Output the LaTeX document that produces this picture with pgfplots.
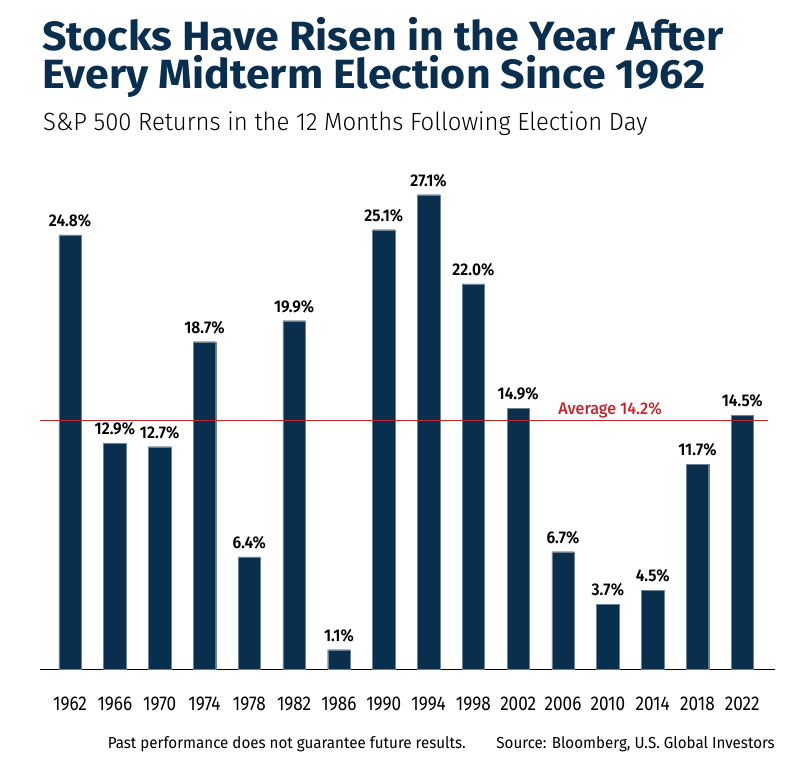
\documentclass[border=0pt]{standalone}
\usepackage{fontspec}
\usepackage{pgfplots}
\pgfplotsset{compat=1.18}
\setmainfont{Fira Sans}
\newfontfamily\titlefont[FakeStretch=1.05]{Fira Sans Bold}
\newfontfamily\subfont[FakeStretch=0.96]{Fira Sans Light}
\newfontfamily\tickfont[FakeStretch=0.86]{Fira Sans}
\newfontfamily\footfont[FakeStretch=0.95]{Fira Sans}
\newfontfamily\lblfont[FakeStretch=0.92]{Fira Sans SemiBold}
\newfontfamily\avgfont[FakeStretch=0.95]{Fira Sans Medium}
\definecolor{navy}{HTML}{0A2E4D}
\definecolor{avgred}{HTML}{C0282D}
\begin{document}
\begin{tikzpicture}
\path[use as bounding box] (0,0) rectangle (795bp,766bp);
\node[anchor=base west,inner sep=0,text=navy,font=\titlefont\fontsize{41}{41}\selectfont] at (42bp,715bp) {Stocks Have Risen in the Year After};
\node[anchor=base west,inner sep=0,text=navy,font=\titlefont\fontsize{41}{41}\selectfont] at (42bp,677bp) {Every Midterm Election Since 1962};
\node[anchor=base west,inner sep=0,text=black,font=\subfont\fontsize{25}{25}\selectfont] at (43bp,635bp) {S\&P 500 Returns in the 12 Months Following Election Day};
\begin{axis}[
  at={(40bp,97bp)}, anchor=south west,
  scale only axis, width=735bp, height=498.75bp,
  xmin=-0.67, xmax=15.73, ymin=0, ymax=28.5,
  clip=false,
  axis x line*=bottom, axis y line=none,
  axis line style={-, black, line width=0.8pt},
  /pgf/number format/assume math mode=true,
  xtick=data,
  xticklabels={1962,1966,1970,1974,1978,1982,1986,1990,1994,1998,2002,2006,2010,2014,2018,2022},
  xtick style={draw=none},
  xticklabel style={font=\tickfont\fontsize{20}{20}\selectfont, anchor=base, yshift=-37bp},
  ybar, bar width=22.4bp,
  nodes near coords={\pgfmathprintnumber[fixed,fixed zerofill,precision=1,assume math mode=true]{\pgfplotspointmeta}\%},
  nodes near coords style={font=\lblfont\fontsize{17}{17}\selectfont, black, inner sep=0pt, anchor=base, yshift=8.5bp},
]
\addplot[fill=navy, draw=navy!60!white, line width=0.3pt] coordinates {
(0,24.8) (1,12.9) (2,12.7) (3,18.7) (4,6.4) (5,19.9) (6,1.1) (7,25.1)
(8,27.1) (9,22.0) (10,14.9) (11,6.7) (12,3.7) (13,4.5) (14,11.7) (15,14.5)};
\addplot[sharp plot, avgred, line width=0.9pt, nodes near coords={}, forget plot] coordinates {(-0.67,14.2) (15.57,14.2)};
\node[text=avgred, font=\avgfont\fontsize{17}{17}\selectfont, anchor=base, inner sep=0] at (axis cs:12.05,14.2) [yshift=5.5bp] {Average 14.2\%};
\end{axis}
\node[anchor=base east,inner sep=0,font=\footfont\fontsize{16}{16}\selectfont] at (466bp,18bp) {Past performance does not guarantee future results.};
\node[anchor=base east,inner sep=0,font=\footfont\fontsize{16}{16}\selectfont] at (775bp,18bp) {Source: Bloomberg, U.S. Global Investors};
\end{tikzpicture}
\end{document}
